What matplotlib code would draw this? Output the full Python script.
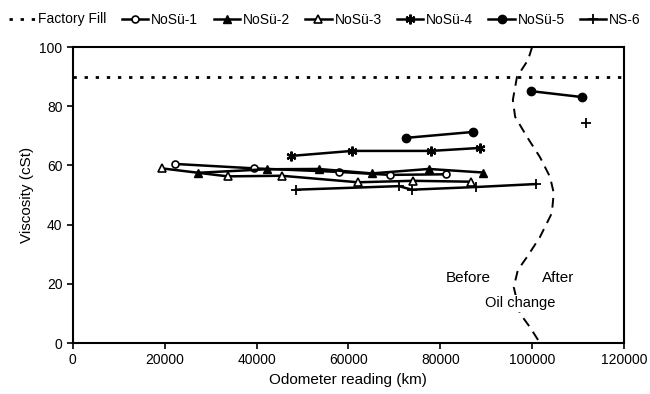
import numpy as np
import matplotlib
matplotlib.use("Agg")
import matplotlib.pyplot as plt

plt.rcParams['font.family'] = ['Liberation Sans', 'DejaVu Sans']
plt.rcParams['font.size'] = 10

# data (odometer km, viscosity cSt)
factory_fill = 90

nosu1_km = [22200, 39500, 57900, 69000, 81300]
nosu1_v = [60.5, 59.0, 57.8, 56.8, 57.0]

nosu2_km = [27200, 42200, 53500, 65100, 77500, 89300]
nosu2_v = [57.5, 58.7, 58.8, 57.3, 58.8, 57.6]

nosu3_km = [19400, 33700, 45500, 62100, 74000, 86600]
nosu3_v = [59.0, 56.3, 56.5, 54.3, 54.8, 54.5]

nosu4_km = [47500, 60800, 78000, 88600]
nosu4_v = [63.2, 64.9, 64.9, 65.9]

nosu5_km = [72500, 87100, np.nan, 99700, 110800]
nosu5_v = [69.3, 71.3, np.nan, 85.1, 83.1]

ns6_km = [48600, 71000, 73800, 87800, 100800, np.nan, 111700]
ns6_v = [51.8, 53.0, 51.8, 52.7, 53.7, np.nan, 74.3]

# hand drawn "oil change" divider
div_km = [100000, 99100, 96700, 95800, 96300, 98900, 101700, 103900, 104700,
          104300, 101700, 98900, 96900, 96000, 97300, 99500, 101300, 101600]
div_v = [100, 95.6, 89.9, 82.1, 76.4, 69.6, 62.8, 56.1, 50.7,
         43.9, 35.8, 29.1, 24.7, 18.9, 10.1, 5.4, 1.0, 0]

fig = plt.figure(figsize=(6.5, 3.94), dpi=100)
ax = fig.add_axes([0.112, 0.1294, 0.848, 0.7513])

ax.plot(div_km, div_v, color='black', lw=1.4, ls=(0, (5, 3.5)), zorder=1)

star = (6, 2, 0)  # excel style asterisk
ax.axhline(factory_fill, color='black', lw=2, ls=(0, (1.2, 2.8)), label='Factory Fill')
ax.plot(nosu1_km, nosu1_v, '-o', color='black', lw=1.8, ms=5, mfc='white', mew=1.2, label='NoSü-1')
ax.plot(nosu2_km, nosu2_v, '-^', color='black', lw=1.8, ms=5.5, label='NoSü-2')
ax.plot(nosu3_km, nosu3_v, '-^', color='black', lw=1.8, ms=5.5, mfc='white', mew=1.2, label='NoSü-3')
ax.plot(nosu4_km, nosu4_v, '-', marker=star, color='black', lw=1.8, ms=7, mew=1.6, label='NoSü-4')
ax.plot(nosu5_km, nosu5_v, '-o', color='black', lw=1.8, ms=6, label='NoSü-5')
ax.plot(ns6_km, ns6_v, '-+', color='black', lw=1.8, ms=7, mew=1.3, label='NS-6')

ax.text(86200, 22, 'Before', ha='center', va='center', fontsize=11)
ax.text(105600, 22, 'After', ha='center', va='center', fontsize=11)
ax.text(97300, 13.5, 'Oil change', ha='center', va='center', fontsize=10.5,
        bbox=dict(facecolor='white', edgecolor='none', pad=1))

ax.set_xlim(0, 120000)
ax.set_ylim(0, 100)
ax.set_xticks(np.arange(0, 120001, 20000))
ax.set_yticks(np.arange(0, 101, 20))
ax.tick_params(direction='out', length=4, width=1.2, labelsize=10)
for s in ax.spines.values():
    s.set_linewidth(1.5)
ax.set_xlabel('Odometer reading (km)', fontsize=11)
ax.set_ylabel('Viscosity (cSt)', fontsize=11)

fig.legend(loc='upper center', bbox_to_anchor=(0.5, 1.0), ncol=7, frameon=False,
           handlelength=1.9, handletextpad=0.2, columnspacing=1.1, fontsize=10)

fig.savefig('out.png', dpi=100)
